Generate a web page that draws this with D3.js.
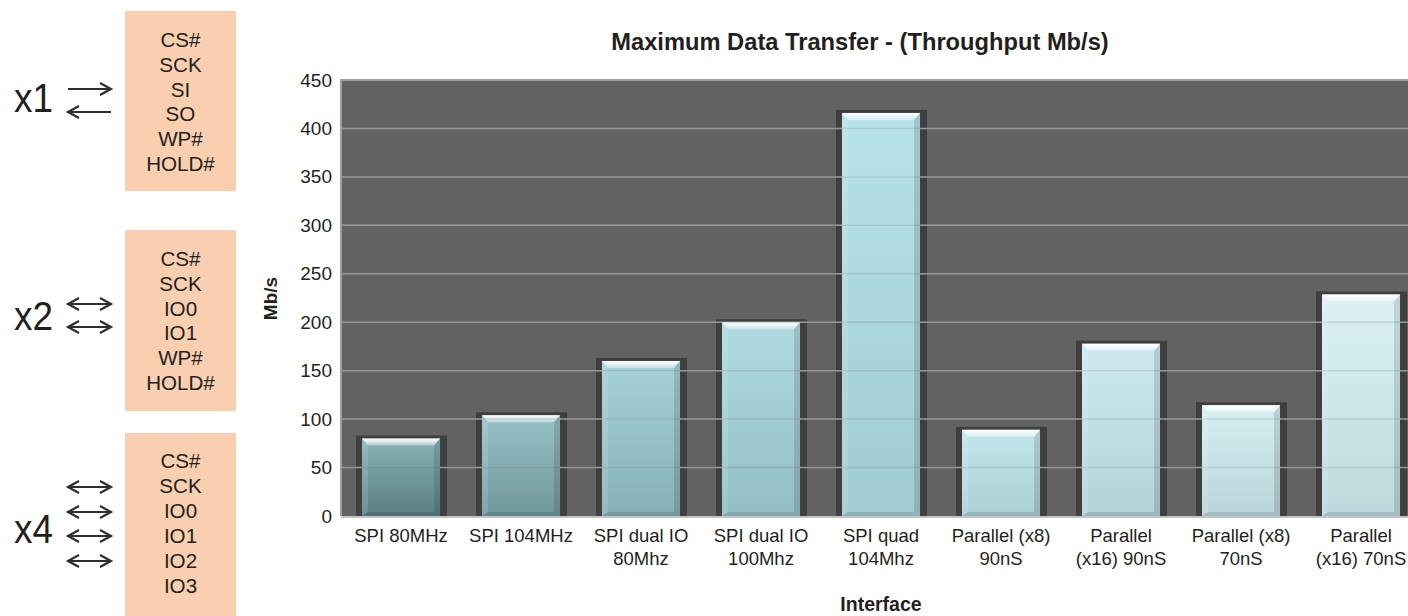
<!DOCTYPE html>
<html>
<head>
<meta charset="utf-8">
<script src="https://cdn.jsdelivr.net/npm/d3@7"></script>
<style>
  html, body { margin: 0; padding: 0; background: #fff; }
  svg { display: block; font-family: "Liberation Sans", Arial, sans-serif; }
</style>
</head>
<body>
<svg id="chart" width="1408" height="616"></svg>
<script>
// ---------------- data ----------------
const categories = [
  ["SPI 80MHz"],
  ["SPI 104MHz"],
  ["SPI dual IO", "80Mhz"],
  ["SPI dual IO", "100Mhz"],
  ["SPI quad", "104Mhz"],
  ["Parallel (x8)", "90nS"],
  ["Parallel", "(x16) 90nS"],
  ["Parallel (x8)", "70nS"],
  ["Parallel", "(x16) 70nS"]
];
const throughput = [80, 104, 160, 200, 416, 88.9, 177.8, 114.3, 228.6];
const yTicks = [0, 50, 100, 150, 200, 250, 300, 350, 400, 450];
const chartTitle = "Maximum Data Transfer - (Throughput Mb/s)";
const xTitle = "Interface";
const yTitle = "Mb/s";

const panelLabels = ["x1", "x2", "x4"];
const panelSignals = [
  ["CS#", "SCK", "SI", "SO", "WP#", "HOLD#"],
  ["CS#", "SCK", "IO0", "IO1", "WP#", "HOLD#"],
  ["CS#", "SCK", "IO0", "IO1", "IO2", "IO3"]
];
const panelArrows = [
  ["right", "left"],
  ["both", "both"],
  ["both", "both", "both", "both"]
];

// ---------------- layout ----------------
const svg = d3.select("#chart");
const plot = { left: 341, right: 1421, top: 80, bottom: 516 };
const ink = "#231f20";

const x = d3.scaleBand()
  .domain(categories.map((c, i) => i))
  .range([plot.left, plot.right])
  .paddingInner(0.35)
  .paddingOuter(0.175);
const y = d3.scaleLinear().domain([0, 450]).range([plot.bottom, plot.top]);

// ---------------- left panel ----------------
const boxes = [
  { y0: 11, y1: 191, first: 39.3, labelY: 112, arrowY: [89, 112] },
  { y0: 230, y1: 411, first: 258.3, labelY: 330, arrowY: [304, 327] },
  { y0: 433, y1: 620, first: 461, labelY: 542.5, arrowY: [487, 512, 536, 561] }
];
const lineGap = 24.9;
const panel = svg.append("g");
boxes.forEach((b, i) => {
  panel.append("rect").attr("x", 125).attr("y", b.y0).attr("width", 111).attr("height", b.y1 - b.y0)
    .attr("fill", "#f9cfb0");
  panel.selectAll(null).data(panelSignals[i]).join("text")
    .attr("x", 180.5).attr("y", (d, k) => b.first + k * lineGap)
    .attr("dy", "0.36em").attr("text-anchor", "middle")
    .attr("font-size", 20.6).attr("fill", ink).text(d => d);
  panel.append("text").attr("x", 14).attr("y", b.labelY)
    .attr("font-size", 40).attr("fill", ink)
    .attr("textLength", 39).attr("lengthAdjust", "spacingAndGlyphs")
    .text(panelLabels[i]);
  panelArrows[i].forEach((type, k) => {
    const ay = b.arrowY[k], xa = 68, xb = 111, hl = 11, hh = 6;
    let p = `M${xa},${ay}L${xb},${ay}`;
    if (type === "right" || type === "both") p += `M${xb - hl},${ay - hh}L${xb},${ay}L${xb - hl},${ay + hh}`;
    if (type === "left" || type === "both") p += `M${xa + hl},${ay - hh}L${xa},${ay}L${xa + hl},${ay + hh}`;
    panel.append("path").attr("d", p).attr("fill", "none")
      .attr("stroke", "#2e2e2e").attr("stroke-width", 2.2).attr("stroke-linejoin", "miter");
  });
});

// ---------------- chart ----------------
svg.append("text").attr("x", 860).attr("y", 50).attr("text-anchor", "middle")
  .attr("font-size", 23.7).attr("font-weight", "bold").attr("fill", ink).text(chartTitle);

svg.append("rect").attr("x", plot.left).attr("y", plot.top)
  .attr("width", plot.right - plot.left).attr("height", plot.bottom - plot.top)
  .attr("fill", "#636364");

// bar shadows
const barG = svg.append("g");
barG.selectAll("rect.shadow").data(throughput).join("rect").attr("class", "shadow")
  .attr("x", (d, i) => x(i) - 6).attr("y", d => y(d) - 3)
  .attr("width", x.bandwidth() + 13).attr("height", d => plot.bottom - y(d) + 3)
  .attr("fill", "#3f3f40");

// gridlines
svg.append("g").selectAll("line").data(yTicks.filter(t => t > 0 && t < 450)).join("line")
  .attr("x1", plot.left).attr("x2", plot.right).attr("y1", d => y(d)).attr("y2", d => y(d))
  .attr("stroke", "#a4a4a4").attr("stroke-width", 1.5);

// gradients
const defs = svg.append("defs");
const topCol = d3.piecewise(d3.interpolateRgb, ["#88b3b7", "#a6d1d6", "#b7e2e9", "#cde9ef", "#dcf2f5"]);
const botCol = d3.piecewise(d3.interpolateRgb, ["#5b7f83", "#85b0b5", "#a0cbd2", "#b3d2d7", "#bdd8dc"]);
throughput.forEach((d, i) => {
  const g = defs.append("linearGradient").attr("id", "bar" + i).attr("x1", 0).attr("y1", 0).attr("x2", 0).attr("y2", 1);
  g.append("stop").attr("offset", 0).attr("stop-color", topCol(i / 8));
  g.append("stop").attr("offset", 1).attr("stop-color", botCol(i / 8));
});
const hi = defs.append("linearGradient").attr("id", "hi").attr("x1", 0).attr("y1", 0).attr("x2", 0).attr("y2", 1);
hi.append("stop").attr("offset", 0).attr("stop-color", "#fff").attr("stop-opacity", 1);
hi.append("stop").attr("offset", 1).attr("stop-color", "#fff").attr("stop-opacity", 0.35);

const bars = svg.append("g").selectAll("g").data(throughput).join("g");
bars.append("rect")
  .attr("x", (d, i) => x(i)).attr("y", d => y(d))
  .attr("width", x.bandwidth()).attr("height", d => plot.bottom - y(d))
  .attr("fill", (d, i) => `url(#bar${i})`);
const bev = 6, bevT = 7;
bars.append("path").attr("fill", "#fff").attr("fill-opacity", 0.12)
  .attr("d", (d, i) => { const x0 = x(i), t = y(d), b = plot.bottom;
    return `M${x0},${t}L${x0 + bev},${t + bevT}L${x0 + bev},${b - 4}L${x0},${b}Z`; });
bars.append("path").attr("fill", "#000").attr("fill-opacity", 0.12)
  .attr("d", (d, i) => { const x1 = x(i) + x.bandwidth(), t = y(d), b = plot.bottom;
    return `M${x1},${t}L${x1 - bev},${t + bevT}L${x1 - bev},${b - 4}L${x1},${b}Z`; });
bars.append("path").attr("fill", "#000").attr("fill-opacity", 0.12)
  .attr("d", (d, i) => { const x0 = x(i), x1 = x0 + x.bandwidth(), b = plot.bottom;
    return `M${x0},${b}L${x0 + bev},${b - 4}L${x1 - bev},${b - 4}L${x1},${b}Z`; });
bars.append("path").attr("fill", "url(#hi)")
  .attr("d", (d, i) => { const x0 = x(i), x1 = x0 + x.bandwidth(), t = y(d);
    return `M${x0},${t}L${x1},${t}L${x1 - bev},${t + bevT}L${x0 + bev},${t + bevT}Z`; });

// faint gridlines across bars
svg.append("g").selectAll("line").data(yTicks.filter(t => t > 0 && t < 450)).join("line")
  .attr("x1", plot.left).attr("x2", plot.right).attr("y1", d => y(d)).attr("y2", d => y(d))
  .attr("stroke", "#55696b").attr("stroke-opacity", 0.18).attr("stroke-width", 1.5);

// plot border
svg.append("path")
  .attr("d", `M${plot.left},${plot.bottom}L${plot.left},${plot.top}L${plot.right},${plot.top}`)
  .attr("fill", "none").attr("stroke", "#a0a0a0").attr("stroke-width", 2);
svg.append("line").attr("x1", plot.left).attr("x2", plot.right)
  .attr("y1", plot.bottom + 1).attr("y2", plot.bottom + 1)
  .attr("stroke", "#c4c4c4").attr("stroke-width", 2);

// y axis
const yAxis = svg.append("g").attr("transform", `translate(${plot.left},0)`)
  .call(d3.axisLeft(y).tickValues(yTicks).tickSize(0).tickPadding(9));
yAxis.select(".domain").remove();
yAxis.selectAll("text").attr("font-size", 19).attr("fill", ink)
  .attr("font-family", "'Liberation Sans', Arial, sans-serif");

// x axis
const xAxis = svg.append("g").attr("transform", `translate(0,${plot.bottom})`)
  .call(d3.axisBottom(x).tickSize(0).tickFormat(""));
xAxis.select(".domain").remove();
xAxis.selectAll(".tick").each(function(i) {
  const t = d3.select(this).append("text")
    .attr("text-anchor", "middle").attr("font-size", 18.5).attr("fill", ink)
    .attr("font-family", "'Liberation Sans', Arial, sans-serif");
  categories[i].forEach((line, k) => {
    t.append("tspan").attr("x", 0).attr("y", 26 + k * 23).text(line);
  });
});

svg.append("text").attr("x", (plot.left + plot.right) / 2).attr("y", 611)
  .attr("text-anchor", "middle").attr("font-size", 19.5).attr("font-weight", "bold")
  .attr("fill", ink).text(xTitle);
svg.append("text").attr("transform", `translate(276.5,${298.5}) rotate(-90)`)
  .attr("text-anchor", "middle").attr("font-size", 19).attr("font-weight", "bold")
  .attr("fill", ink).text(yTitle);
</script>
</body>
</html>
